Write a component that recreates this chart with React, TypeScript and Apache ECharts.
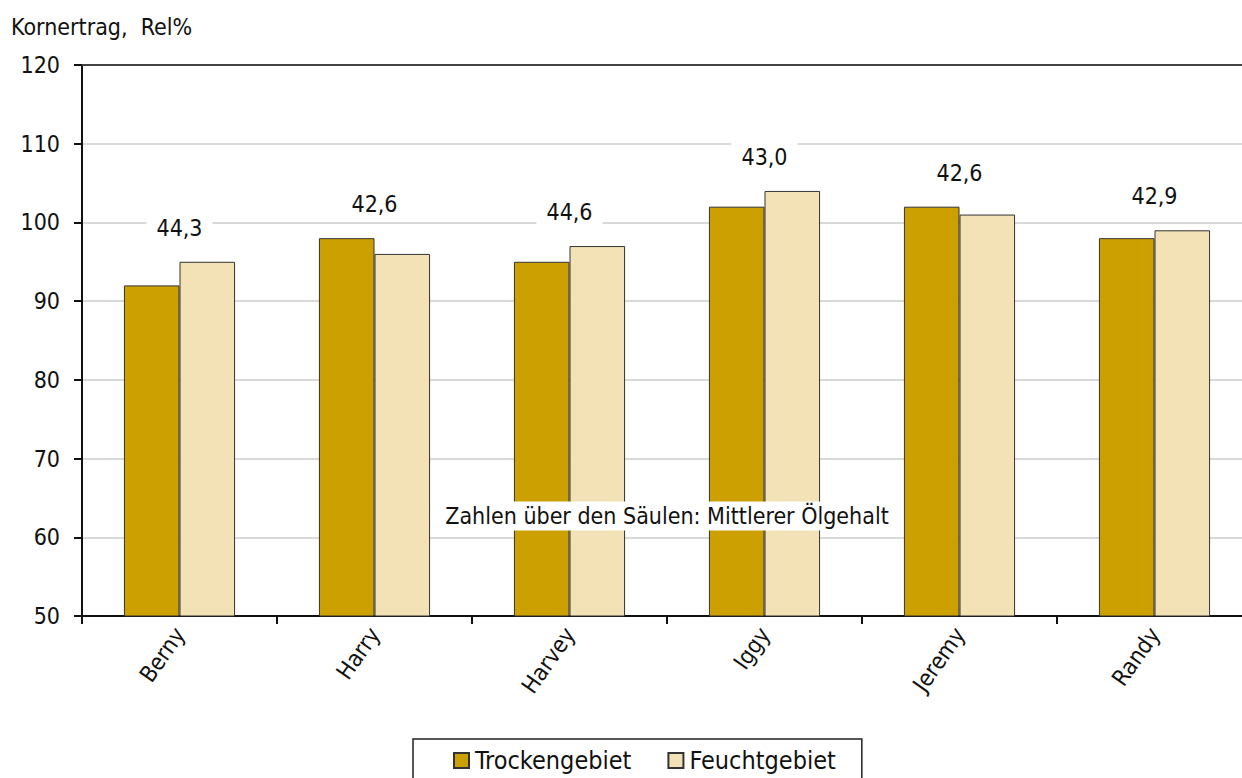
import React, { useEffect, useRef } from "react";
import * as echarts from "echarts";

const categories = ["Berny", "Harry", "Harvey", "Iggy", "Jeremy", "Randy"];
const trocken = [92, 98, 95, 102, 102, 98];
const feucht = [95, 96, 97, 104, 101, 99];
const oil = [44.3, 42.6, 44.6, 43.0, 42.6, 42.9];
const yTicks = { min: 50, max: 120, interval: 10 };

const FONT = "DejaVu Sans Condensed";
const FS = 23;

export default function App() {
  const ref = useRef<HTMLDivElement>(null);
  useEffect(() => {
    if (!ref.current) return;
    document.body.style.overflow = "hidden";
    const chart = echarts.init(ref.current, null, { renderer: "svg" });
    const labelTops = categories.map((_, i) => Math.max(trocken[i], feucht[i]));
    chart.setOption({
      animation: false,
      textStyle: { fontFamily: FONT },
      grid: { left: 82, right: 8, top: 65, bottom: 162, containLabel: false },
      graphic: [
        {
          type: "text",
          left: 11,
          top: 15,
          style: { text: "Kornertrag,  Rel%", font: `${FS}px "${FONT}"`, fill: "#111" },
        },
        {
          type: "text",
          x: 667,
          y: 516,
          z: 100,
          style: {
            text: "Zahlen über den Säulen: Mittlerer Ölgehalt",
            font: `${FS}px "${FONT}"`,
            fill: "#111",
            align: "center",
            verticalAlign: "middle",
            backgroundColor: "#fff",
            padding: [3, 8],
          },
        },
      ],
      legend: {
        top: 739,
        left: 413,
        data: ["Trockengebiet", "Feuchtgebiet"],
        icon: "rect",
        itemWidth: 15,
        itemHeight: 15,
        itemGap: 36,
        borderColor: "#222",
        borderWidth: 1.5,
        borderRadius: 0,
        padding: [9, 26, 14, 40],
        backgroundColor: "#fff",
        textStyle: { fontSize: 25, color: "#111", fontFamily: FONT, padding: [0, 0, 0, 1] },
      },
      xAxis: [
        {
          type: "category",
          data: categories,
          axisLine: { lineStyle: { color: "#111", width: 2 } },
          axisTick: { show: true, length: 8, lineStyle: { color: "#111", width: 2 } },
          axisLabel: { rotate: 55, fontSize: FS, color: "#111", margin: 14, fontFamily: FONT },
        },
        {
          type: "category",
          position: "top",
          data: categories,
          axisLine: { show: true, lineStyle: { color: "#444", width: 2 } },
          axisTick: { show: false },
          axisLabel: { show: false },
        },
      ],
      yAxis: {
        type: "value",
        min: yTicks.min,
        max: yTicks.max,
        interval: yTicks.interval,
        axisLine: { show: true, lineStyle: { color: "#111", width: 2 } },
        axisTick: { show: true, length: 8, lineStyle: { color: "#111", width: 2 } },
        axisLabel: { fontSize: FS, color: "#111", margin: 22, fontFamily: FONT },
        splitLine: { lineStyle: { color: "#cccccc", width: 1.5 } },
      },
      series: [
        {
          name: "Trockengebiet",
          type: "bar",
          data: trocken,
          barGap: "0%",
          barCategoryGap: "43%",
          itemStyle: { color: "#CCA000", borderColor: "#333", borderWidth: 1 },
        },
        {
          name: "Feuchtgebiet",
          type: "bar",
          data: feucht,
          barGap: "0%",
          barCategoryGap: "43%",
          itemStyle: { color: "#F2E2B6", borderColor: "#333", borderWidth: 1 },
        },
        {
          name: "oil",
          type: "scatter",
          data: labelTops,
          symbolSize: 1,
          itemStyle: { color: "transparent", opacity: 1 },
          z: 10,
          label: {
            show: true,
            position: "top",
            distance: 19,
            formatter: (p: any) => oil[p.dataIndex].toFixed(1).replace(".", ","),
            fontSize: FS,
            color: "#111",
            opacity: 1,
            fontFamily: FONT,
            backgroundColor: "#fff",
            padding: [3, 10],
          },
        },
      ],
    });
    return () => chart.dispose();
  }, []);
  return (
    <div
      ref={ref}
      style={{ position: "absolute", left: 0, top: 0, width: 1260, height: 778, background: "#fff" }}
    />
  );
}
